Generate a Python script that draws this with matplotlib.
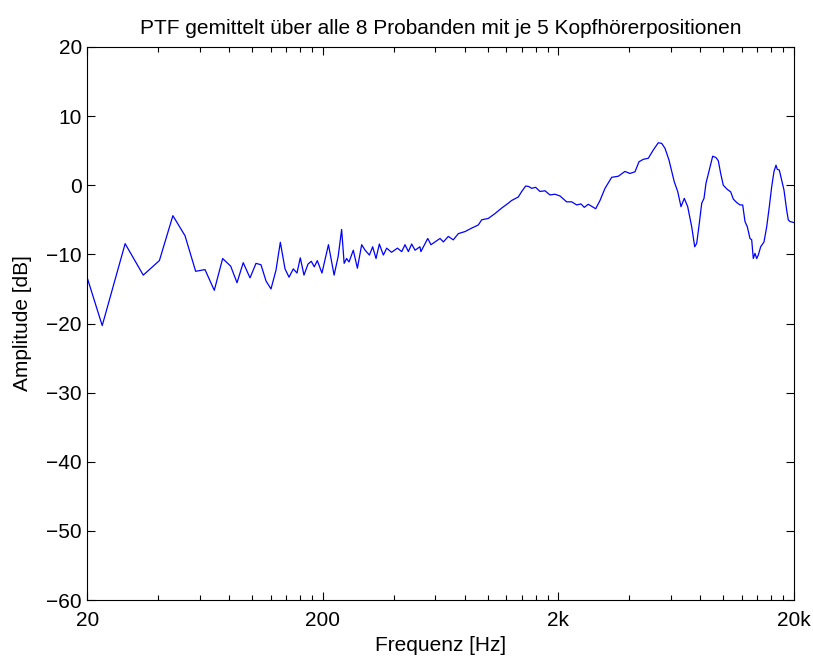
import numpy as np
import matplotlib.pyplot as plt
from matplotlib.ticker import FixedLocator, NullFormatter

plt.rcParams['font.family'] = ['Liberation Sans', 'DejaVu Sans']

# frequency [Hz] and averaged PTF amplitude [dB]
freq = [20, 23.1, 28.9, 34.5, 40.4, 46.1, 51.9, 57.6, 63.1, 69.1, 75.0, 81.1,
        86.3, 91.7, 98.0, 103.9, 109.1, 114.6, 120.3, 126.3, 131.8, 138.0,
        143.5, 149.6, 155.1, 160.2, 166.1, 172.8, 178.4, 183.7, 189.2,
        198, 211, 223, 232, 240, 246, 252, 258, 269, 280, 292, 302, 315, 325,
        336, 347, 361, 373, 391, 414, 432, 446, 461, 476, 492, 516,
        521, 557, 575, 598, 628, 649, 681, 715, 751, 802, 856, 913, 944,
        1007, 1075, 1148, 1224,
        1266, 1350, 1396, 1452, 1499, 1539, 1600, 1669, 1753, 1840, 1932,
        2030, 2166, 2276, 2390, 2492, 2574, 2676, 2784, 2878, 3002, 3152,
        3365, 3589, 3832, 4024, 4226, 4395, 4584, 4813, 5054, 5308, 5487,
        5666, 5892, 6204, 6416, 6626, 6844, 7075, 7357, 7577, 7726, 7926,
        8115, 8298, 8462, 8738, 9034, 9330, 9542, 9768, 10020, 10420, 10772,
        11050, 11424, 11798, 12114, 12388, 12670, 13010, 13228, 13436, 13660,
        13890, 14108, 14444, 14918, 15320, 15714, 16086, 16452, 16778, 16990,
        17326, 17736, 18140, 18622, 18918, 19232, 20000]
amp = [-13.5, -20.3, -8.45, -13.0, -10.9, -4.4, -7.3, -12.45, -12.2, -15.2,
       -10.6, -11.7, -14.1, -11.2, -13.4, -11.3, -11.5, -13.85, -15.0, -12.3,
       -8.25, -12.1, -13.3, -12.1, -12.7, -10.5, -13.0, -11.4, -11.0, -11.8,
       -10.9,
       -12.7, -8.6, -13.0, -10.3, -6.4, -11.3, -10.6, -11.1, -9.4, -12.0,
       -8.6, -9.4, -10.1, -8.9, -10.6, -8.5, -10.1, -9.1, -9.7, -9.1, -9.6,
       -8.6, -9.6, -8.5, -9.4, -8.9,
       -9.6, -7.7, -8.6, -8.2, -7.7, -8.2, -7.4, -7.9, -7.0, -6.7, -6.2,
       -5.75, -5.0, -4.8, -4.1, -3.3, -2.6,
       -2.2, -1.7, -0.9, -0.1, -0.2, -0.45, -0.3, -0.9, -0.8, -1.4, -1.3,
       -1.55, -2.4, -2.4, -2.85, -2.7, -3.2, -2.75, -3.1, -3.4, -2.2, -0.45,
       1.15, 1.3, 2.0, 1.7, 1.95, 3.4, 3.75, 3.9, 5.1, 6.15, 6.05,
       5.35, 3.65, 0.5, -0.9, -3.1, -1.9, -3.1, -6.0, -8.9, -8.4, -5.5,
       -2.6, -1.9, 0.3, 2.2, 4.2, 4.0, 3.55, 1.7, 0.0, -0.6, -0.95,
       -2.0, -2.5, -2.85, -2.85, -5.25, -6.0, -7.7, -7.9, -10.6, -9.85,
       -10.6, -10.1, -8.9, -8.2, -6.0, -3.1, -0.2, 2.0, 2.9, 2.3,
       2.2, 0.75, -0.7, -3.6, -5.0, -5.25, -5.4]

xticks = [20, 200, 2000, 20000]
xticklabels = ['20', '200', '2k', '20k']
xminor = [m * d for d in (20, 200, 2000) for m in range(2, 10)]
yticks = [-60, -50, -40, -30, -20, -10, 0, 10, 20]
yticklabels = ['\u221260', '\u221250', '\u221240', '\u221230', '\u221220',
               '\u221210', '0', '10', '20']

fs = 15

fig = plt.figure(figsize=(8.13, 6.58), dpi=100)
ax = fig.add_axes([0.1076, 0.0881, 0.869, 0.8405])
ax.semilogx(freq, amp, color='#0000ff', lw=0.9)

ax.set_xlim(20, 20000)
ax.set_ylim(-60, 20)
ax.xaxis.set_major_locator(FixedLocator(xticks))
ax.set_xticklabels(xticklabels)
ax.xaxis.set_minor_locator(FixedLocator(xminor))
ax.xaxis.set_minor_formatter(NullFormatter())
ax.set_yticks(yticks)
ax.set_yticklabels(yticklabels)

ax.tick_params(which='both', direction='in', top=True, right=True,
               labelsize=fs, width=0.8)
ax.tick_params(which='major', length=6)
ax.tick_params(axis='x', which='major', pad=8)
ax.tick_params(axis='y', which='major', pad=4)
ax.tick_params(which='minor', length=3.5)
for s in ax.spines.values():
    s.set_linewidth(0.8)

ax.set_xlabel('Frequenz [Hz]', fontsize=fs, labelpad=4)
ax.set_ylabel('Amplitude [dB]', fontsize=fs, labelpad=10)
ax.set_title('PTF gemittelt über alle 8 Probanden mit je 5 Kopfhörerpositionen',
             fontsize=fs, pad=9)

fig.savefig('out.png', dpi=100)
